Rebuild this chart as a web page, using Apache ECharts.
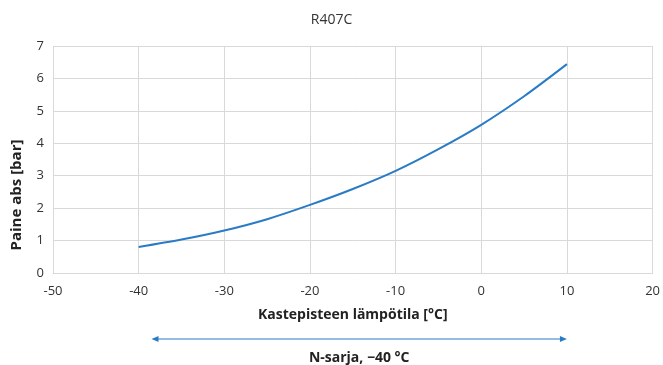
<!DOCTYPE html>
<html>
<head>
<meta charset="utf-8">
<script src="https://cdn.jsdelivr.net/npm/echarts@6/dist/echarts.min.js"></script>
<style>
  html, body { margin: 0; padding: 0; background: #fff; }
  #chart { width: 663px; height: 365px; }
</style>
</head>
<body>
<div id="chart"></div>
<script>
// kastepiste (°C) ja paine abs (bar), luettu kuvasta
var temps = [-40, -35, -30, -25, -20, -15, -10, -5, 0, 5, 10];
var pressure = [0.8, 1.03, 1.31, 1.66, 2.1, 2.59, 3.15, 3.82, 4.57, 5.45, 6.44];
var rangeStart = -38.5;
var rangeEnd = 10;
var rangeLabel = 'N-sarja, \u221240 \u00b0C';
var yName = 'Paine abs [bar]';

var font = "'Open Sans', 'Noto Sans', sans-serif";
var blue = '#2a7bc6';
var gridGray = '#d9d9d9';

var chart = echarts.init(document.getElementById('chart'));

var option = {
  animation: false,
  title: {
    text: 'R407C',
    left: 'center',
    top: 8,
    textStyle: { fontFamily: font, fontWeight: 'normal', fontSize: 14, color: '#333' }
  },
  grid: { left: 53, right: 6, top: 46, bottom: 92 },
  xAxis: {
    type: 'value',
    min: -50,
    max: 20,
    interval: 10,
    name: 'Kastepisteen lämpötila [°C]',
    nameLocation: 'middle',
    nameGap: 35,
    nameTextStyle: { fontFamily: font, fontWeight: 'bold', fontSize: 14, color: '#222' },
    axisLine: { show: true, lineStyle: { color: gridGray } },
    axisTick: { show: false },
    axisLabel: { fontFamily: font, fontSize: 13, color: '#333', margin: 12 },
    splitLine: { show: true, lineStyle: { color: gridGray } }
  },
  yAxis: {
    type: 'value',
    min: 0,
    max: 7,
    interval: 1,
    axisLine: { show: true, lineStyle: { color: gridGray } },
    axisTick: { show: false },
    axisLabel: { fontFamily: font, fontSize: 13, color: '#333', margin: 9 },
    splitLine: { show: true, lineStyle: { color: gridGray } }
  },
  series: [{
    type: 'line',
    data: temps.map(function (t, i) { return [t, pressure[i]]; }),
    smooth: 0.3,
    showSymbol: false,
    lineStyle: { color: blue, width: 2 }
  }]
};

chart.setOption(option);

// nuoli ja teksti akselin alle
var p1 = chart.convertToPixel({ xAxisIndex: 0 }, rangeStart);
var p2 = chart.convertToPixel({ xAxisIndex: 0 }, rangeEnd);
var arrowY = 339;
chart.setOption({
  graphic: [
    {
      type: 'text',
      x: 17,
      y: 195,
      rotation: Math.PI / 2,
      style: {
        text: yName,
        fontFamily: font,
        fontWeight: 'bold',
        fontSize: 15,
        fill: '#222',
        align: 'center',
        verticalAlign: 'middle'
      }
    },
    {
      type: 'line',
      shape: { x1: p1 + 4, y1: arrowY, x2: p2 - 4, y2: arrowY },
      style: { stroke: blue, lineWidth: 1 }
    },
    {
      type: 'polygon',
      shape: { points: [[p1, arrowY], [p1 + 7, arrowY - 3], [p1 + 7, arrowY + 3]] },
      style: { fill: blue }
    },
    {
      type: 'polygon',
      shape: { points: [[p2, arrowY], [p2 - 7, arrowY - 3], [p2 - 7, arrowY + 3]] },
      style: { fill: blue }
    },
    {
      type: 'text',
      x: (p1 + p2) / 2,
      y: 358,
      style: {
        text: rangeLabel,
        fontFamily: font,
        fontWeight: 'bold',
        fontSize: 14,
        fill: '#222',
        align: 'center',
        verticalAlign: 'middle'
      }
    }
  ]
});
</script>
</body>
</html>
